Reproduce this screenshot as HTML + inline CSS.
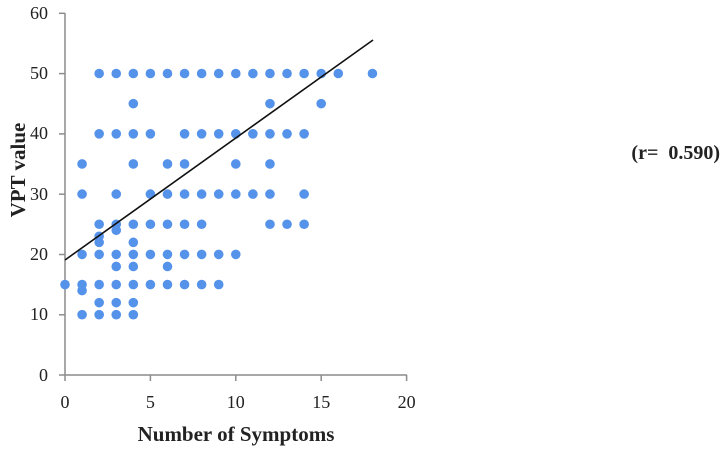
<!DOCTYPE html>
<html><head><meta charset="utf-8"><style>
html,body{margin:0;padding:0;background:#fff;}
svg{display:block;font-family:"Liberation Serif",serif;}
</style></head><body>
<svg width="724" height="449" viewBox="0 0 724 449" xmlns="http://www.w3.org/2000/svg">
<g stroke="#8c8c8c" stroke-width="1.5" fill="none">
<line x1="65" y1="13" x2="65" y2="375"/>
<line x1="65" y1="375" x2="407" y2="375"/>
<line x1="59" y1="13.3" x2="65" y2="13.3"/>
<line x1="59" y1="73.6" x2="65" y2="73.6"/>
<line x1="59" y1="133.9" x2="65" y2="133.9"/>
<line x1="59" y1="194.2" x2="65" y2="194.2"/>
<line x1="59" y1="254.5" x2="65" y2="254.5"/>
<line x1="59" y1="314.8" x2="65" y2="314.8"/>
<line x1="59" y1="375" x2="65" y2="375"/>
<line x1="65" y1="375" x2="65" y2="381"/>
<line x1="150.4" y1="375" x2="150.4" y2="381"/>
<line x1="235.8" y1="375" x2="235.8" y2="381"/>
<line x1="321.2" y1="375" x2="321.2" y2="381"/>
<line x1="406.6" y1="375" x2="406.6" y2="381"/>
</g>
<g font-size="18" fill="#222" text-anchor="end">
<text x="48" y="19">60</text><text x="48" y="79">50</text><text x="48" y="139">40</text>
<text x="48" y="200">30</text><text x="48" y="260">20</text><text x="48" y="320">10</text><text x="48" y="381">0</text>
</g>
<g font-size="18" fill="#222" text-anchor="middle">
<text x="65" y="408">0</text><text x="150.4" y="408">5</text><text x="235.8" y="408">10</text>
<text x="321.2" y="408">15</text><text x="406.6" y="408">20</text>
</g>
<text x="236" y="441" font-size="21" font-weight="bold" text-anchor="middle" fill="#222">Number of Symptoms</text>
<text transform="translate(25,170) rotate(-90)" font-size="21" font-weight="bold" text-anchor="middle" fill="#222">VPT value</text>
<text x="720" y="159" font-size="20" font-weight="bold" text-anchor="end" fill="#222" xml:space="preserve">(r=  0.590)</text>
<g fill="#5592ea" id="pts"></g>
<line x1="65" y1="260" x2="373" y2="40" stroke="#111" stroke-width="1.6"/>
</svg>
<script>
var d={50:[2,3,4,5,6,7,8,9,10,11,12,13,14,15,16,18],45:[4,12,15],40:[2,3,4,5,7,8,9,10,11,12,13,14],35:[1,4,6,7,10,12],30:[1,3,5,6,7,8,9,10,11,12,14],25:[2,3,4,5,6,7,8,12,13,14],24:[3],23:[2],22:[2,4],20:[1,2,3,4,5,6,7,8,9,10],18:[3,4,6],15:[0,1,2,3,4,5,6,7,8,9],14:[1],12:[2,3,4],10:[1,2,3,4]};
var g=document.getElementById('pts'),s='';
for(var y in d){d[y].forEach(function(x){s+='<circle cx="'+(65+x*17.08)+'" cy="'+(375-y*6.03)+'" r="4.8"/>';});}
g.innerHTML=s;
</script>
</body></html>
